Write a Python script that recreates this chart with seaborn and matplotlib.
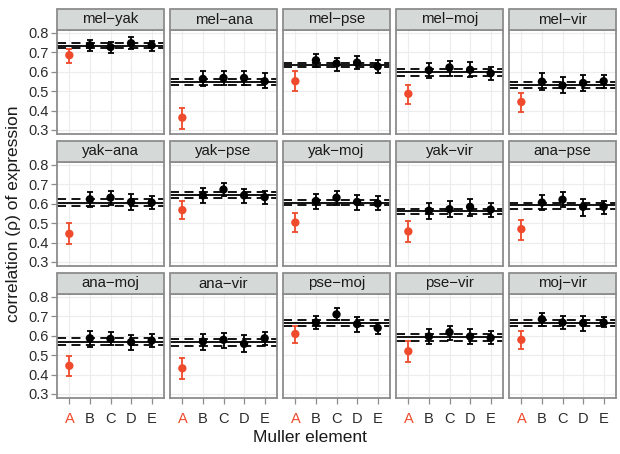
import matplotlib
matplotlib.use('Agg')
import matplotlib.pyplot as plt
import pandas as pd
import numpy as np
import seaborn as sns
from matplotlib.patches import Rectangle

# 数据：每个物种对在 Muller 元素 A-E 上的表达相关性
pairs = ['mel−yak', 'mel−ana', 'mel−pse', 'mel−moj', 'mel−vir',
         'yak−ana', 'yak−pse', 'yak−moj', 'yak−vir', 'ana−pse',
         'ana−moj', 'ana−vir', 'pse−moj', 'pse−vir', 'moj−vir']
elements = ['A', 'B', 'C', 'D', 'E']

rho = [[0.685, 0.736, 0.727, 0.747, 0.736],
       [0.363, 0.563, 0.568, 0.568, 0.551],
       [0.551, 0.659, 0.642, 0.647, 0.627],
       [0.486, 0.608, 0.622, 0.610, 0.592],
       [0.444, 0.549, 0.529, 0.542, 0.551],
       [0.445, 0.623, 0.631, 0.609, 0.606],
       [0.567, 0.643, 0.673, 0.643, 0.634],
       [0.503, 0.614, 0.631, 0.609, 0.601],
       [0.457, 0.564, 0.572, 0.584, 0.570],
       [0.469, 0.606, 0.621, 0.584, 0.584],
       [0.445, 0.587, 0.584, 0.567, 0.575],
       [0.432, 0.570, 0.579, 0.558, 0.587],
       [0.609, 0.668, 0.710, 0.660, 0.640],
       [0.520, 0.596, 0.618, 0.596, 0.589],
       [0.579, 0.685, 0.668, 0.665, 0.668]]

rho_lo = [[0.646, 0.707, 0.698, 0.715, 0.707],
          [0.303, 0.524, 0.529, 0.529, 0.517],
          [0.500, 0.625, 0.605, 0.614, 0.593],
          [0.432, 0.568, 0.580, 0.571, 0.558],
          [0.390, 0.507, 0.490, 0.500, 0.517],
          [0.390, 0.584, 0.592, 0.570, 0.575],
          [0.520, 0.604, 0.640, 0.606, 0.600],
          [0.452, 0.572, 0.592, 0.567, 0.567],
          [0.401, 0.520, 0.533, 0.536, 0.530],
          [0.412, 0.567, 0.584, 0.536, 0.547],
          [0.390, 0.542, 0.550, 0.525, 0.542],
          [0.376, 0.528, 0.538, 0.516, 0.550],
          [0.562, 0.634, 0.680, 0.618, 0.609],
          [0.466, 0.555, 0.579, 0.555, 0.555],
          [0.530, 0.651, 0.634, 0.626, 0.643]]

rho_hi = [[0.715, 0.766, 0.754, 0.778, 0.758],
          [0.415, 0.605, 0.605, 0.602, 0.592],
          [0.602, 0.693, 0.673, 0.681, 0.661],
          [0.532, 0.646, 0.656, 0.651, 0.625],
          [0.490, 0.592, 0.575, 0.585, 0.585],
          [0.499, 0.658, 0.665, 0.648, 0.640],
          [0.614, 0.682, 0.707, 0.677, 0.668],
          [0.553, 0.651, 0.668, 0.646, 0.640],
          [0.513, 0.604, 0.613, 0.623, 0.604],
          [0.516, 0.646, 0.660, 0.623, 0.614],
          [0.494, 0.626, 0.618, 0.606, 0.609],
          [0.483, 0.609, 0.614, 0.606, 0.621],
          [0.651, 0.702, 0.741, 0.694, 0.668],
          [0.572, 0.634, 0.651, 0.634, 0.623],
          [0.623, 0.716, 0.702, 0.702, 0.699]]

# 全基因组相关性（实线）及其置信区间（虚线）
overall = [0.734, 0.546, 0.634, 0.598, 0.534,
           0.606, 0.646, 0.606, 0.562, 0.592,
           0.570, 0.567, 0.665, 0.592, 0.665]
overall_lo = [0.721, 0.529, 0.622, 0.580, 0.515,
              0.589, 0.631, 0.592, 0.545, 0.575,
              0.553, 0.547, 0.651, 0.575, 0.651]
overall_hi = [0.747, 0.561, 0.647, 0.612, 0.549,
              0.623, 0.660, 0.621, 0.575, 0.606,
              0.587, 0.584, 0.680, 0.609, 0.680]

RED = '#ef4a2c'
BORDER = '#8c8c8c'
STRIP = '#d5d9d8'

rows = []
for i, p in enumerate(pairs):
    for j, e in enumerate(elements):
        rows.append({'pair': p, 'element': e, 'pos': j, 'rho': rho[i][j],
                     'lo': rho_lo[i][j], 'hi': rho_hi[i][j],
                     'isA': 'A' if e == 'A' else 'other'})
df = pd.DataFrame(rows)

sns.set_style('white')
plt.rcParams['font.family'] = ['Liberation Sans', 'DejaVu Sans']


def draw_panel(data, **kws):
    ax = plt.gca()
    i = pairs.index(data['pair'].iloc[0])
    ax.axhline(overall[i], color='black', lw=1.3, zorder=2)
    ax.axhline(overall_lo[i], color='black', lw=1.3, ls=(0, (5, 3)), zorder=2)
    ax.axhline(overall_hi[i], color='black', lw=1.3, ls=(0, (5, 3)), zorder=2)
    for _, r in data.iterrows():
        c = RED if r['isA'] == 'A' else 'black'
        ax.errorbar(r['pos'], r['rho'], yerr=[[r['rho'] - r['lo']], [r['hi'] - r['rho']]],
                    fmt='none', ecolor=c, elinewidth=1.3, capsize=2.5, capthick=1.3, zorder=3)
    sns.scatterplot(data=data, x='pos', y='rho', hue='isA',
                    palette={'A': RED, 'other': 'black'}, s=36, edgecolor='none',
                    legend=False, ax=ax, zorder=4)


g = sns.FacetGrid(df, col='pair', col_wrap=5, col_order=pairs, sharex=True, sharey=True,
                  height=1.2, aspect=1.0)
g.map_dataframe(draw_panel)

fig = g.figure
fig.set_size_inches(6.2, 4.54)
fig.subplots_adjust(left=57 / 620, right=616 / 620, top=1 - 30 / 454, bottom=1 - 398 / 454,
                    wspace=6 / 107, hspace=28 / 104)

for k, ax in enumerate(g.axes.flat):
    ax.set_title('')
    ax.set_xlabel('')
    ax.set_ylabel('')
    ax.set_xlim(-0.6, 4.6)
    ax.set_ylim(0.279, 0.815)
    ax.set_xticks(range(5))
    ax.set_yticks([0.3, 0.4, 0.5, 0.6, 0.7, 0.8])
    ax.grid(True, color='#ececec', lw=0.8)
    ax.set_axisbelow(True)
    for s in ax.spines.values():
        s.set_visible(True)
        s.set_color(BORDER)
        s.set_linewidth(1.3)
    row, col = divmod(k, 5)
    ax.tick_params(axis='both', colors='#8c8c8c', labelcolor='#2b2b2b', labelsize=10.5,
                   length=4, width=0.9, direction='out', pad=2,
                   left=(col == 0), bottom=(row == 2),
                   labelleft=(col == 0), labelbottom=(row == 2))
    if row == 2:
        ax.set_xticklabels(elements)
        ax.get_xticklabels()[0].set_color(RED)
        ax.tick_params(axis='x', pad=6)
    if col == 0:
        ax.set_yticklabels(['0.3', '0.4', '0.5', '0.6', '0.7', '0.8'])
    # 分面标题条
    ax.add_patch(Rectangle((0, 1.0), 1, 21 / 104, transform=ax.transAxes, clip_on=False,
                           facecolor=STRIP, edgecolor=BORDER, lw=1.3, zorder=5))
    ax.text(0.5, 1.0 + 10.5 / 104, pairs[k], transform=ax.transAxes, ha='center', va='center',
            fontsize=10.8, color='#1a1a1a', zorder=6)

fig.text(0.5, 1 - 437 / 454, 'Muller element', ha='center', va='center', fontsize=12.5,
         color='#1a1a1a')
fig.text(14 / 620, 0.5 + (454 / 2 - 214) / 454, 'correlation (ρ) of expression', rotation=90,
         ha='center', va='center', fontsize=12.5, color='#1a1a1a')

fig.savefig('out.png', dpi=100, facecolor='white')
